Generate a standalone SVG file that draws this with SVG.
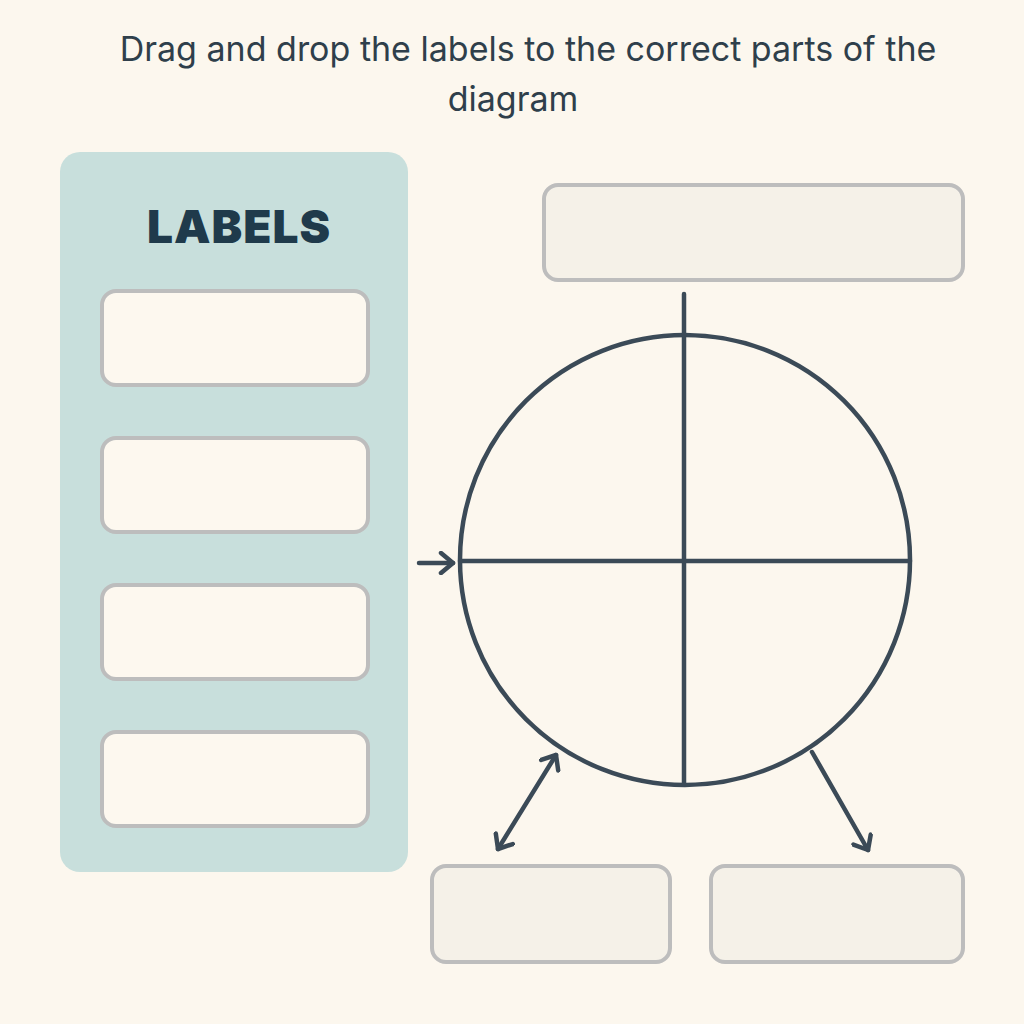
<svg xmlns="http://www.w3.org/2000/svg" width="1024" height="1024" viewBox="0 0 1024 1024">
<defs>
<style>
.title{font-family:"Inter","Liberation Sans",sans-serif;font-size:34px;fill:#2f3f4b;text-anchor:middle}
.slot{fill:#fdf8ef;stroke:#bdbdbd;stroke-width:4}
.target{fill:#f5f1e8;stroke:#bdbdbd;stroke-width:4}
.ln{stroke:#3b4a57;stroke-width:4.5;fill:none;stroke-linecap:round}
</style>
<marker id="ah" viewBox="0 0 24 24" refX="19" refY="12" markerWidth="24" markerHeight="24" markerUnits="userSpaceOnUse" orient="auto-start-reverse">
<path d="M7,2 L19,12 L7,22" fill="none" stroke="#3b4a57" stroke-width="4.5" stroke-linecap="round" stroke-linejoin="round"/>
</marker>
</defs>
<rect width="1024" height="1024" fill="#fcf7ee"/>
<g id="title">
<text class="title" x="528" y="61">Drag and drop the labels to the correct parts of the</text>
<text class="title" x="513" y="111">diagram</text>
</g>
<g id="labels-panel">
<rect x="60" y="152" width="348" height="720" rx="20" fill="#c8dfdc"/>
<text x="239" y="243" font-family="Inter,'Liberation Sans',sans-serif" font-size="46" font-weight="900" letter-spacing="1" fill="#1f3a4b" text-anchor="middle">LABELS</text>
</g>
<g id="label-1"><rect class="slot" x="102" y="291" width="266" height="94" rx="14"/></g>
<g id="label-2"><rect class="slot" x="102" y="438" width="266" height="94" rx="14"/></g>
<g id="label-3"><rect class="slot" x="102" y="585" width="266" height="94" rx="14"/></g>
<g id="label-4"><rect class="slot" x="102" y="732" width="266" height="94" rx="14"/></g>
<g id="target-top"><rect class="target" x="544" y="185" width="419" height="95" rx="14"/></g>
<g id="target-bottom-left"><rect class="target" x="432" y="866" width="238" height="96" rx="14"/></g>
<g id="target-bottom-right"><rect class="target" x="711" y="866" width="252" height="96" rx="14"/></g>
<g id="circle">
<circle class="ln" cx="685" cy="560" r="225"/>
<line class="ln" x1="684" y1="294" x2="684" y2="784"/>
<line class="ln" x1="460" y1="561" x2="910" y2="561"/>
</g>
<g id="connectors">
<line class="ln" x1="419" y1="563" x2="453" y2="563" marker-end="url(#ah)"/>
<line class="ln" x1="498" y1="849" x2="556" y2="755" marker-start="url(#ah)" marker-end="url(#ah)"/>
<line class="ln" x1="812" y1="752" x2="868" y2="850" marker-end="url(#ah)"/>
</g>
</svg>
